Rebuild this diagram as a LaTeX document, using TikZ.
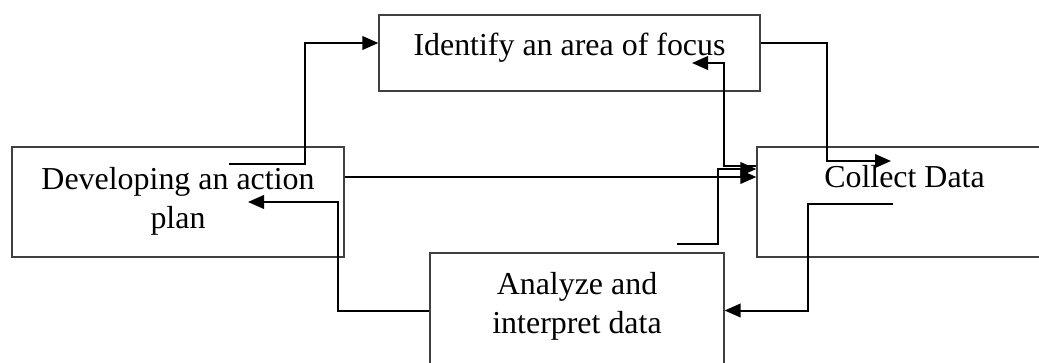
\documentclass[tikz,border=0pt]{standalone}
\usepackage{fontspec}
\setmainfont{Liberation Serif}
\usetikzlibrary{arrows.meta}

\begin{document}
\begin{tikzpicture}[x=0.025cm, y=-0.025cm,
    box/.style={draw=black!75, line width=0.03cm, inner sep=0pt, align=center,
      font=\fontsize{22.7}{27.7}\selectfont},
    link/.style={line width=0.05cm, -{Triangle[length=0.4cm, width=0.34cm]}}]
  \useasboundingbox (0,0) rectangle (1039,362);

  % Drawing box Identify
  \node[box, minimum width=9.525cm, text height=1.0cm, text depth=0.9cm] (focus) at (569.5,53) {Identify an area of focus};%
  % Drawing box Developing
  \node[box, minimum width=8.3cm, text height=2.025cm, text depth=0.725cm] (plan) at (178,202) {Developing an action\\plan};%
  % Drawing box Collect
  \node[box, minimum width=7.375cm, text height=1.0cm, text depth=1.75cm] (collect) at (904.5,202) {Collect Data};%
  % Drawing box Analyze
  \node[box, minimum width=7.35cm, text height=2.0cm, text depth=0.875cm] (analyze) at (577,310.5) {Analyze and\\interpret data};%

  % Free ends of the arrows
  \coordinate (s1) at (229,164);%
  \coordinate (e3) at (891,161);%
  \coordinate (s4) at (893,204);%
  \coordinate (e5) at (248,202);%
  \coordinate (s6) at (677,244);%
  \coordinate (e7) at (692,63);%

  % Drawing arrow plan -> focus
  \draw[link] (s1) -- ++(76,0) |- ([yshift=0.25cm]focus.west);%
  % Drawing arrow plan -> collect
  \draw[link] ([yshift=0.625cm]plan.east) -- ([yshift=0.625cm]collect.west);%
  % Drawing arrow focus -> collect
  \draw[link] ([yshift=0.25cm]focus.east) -- ++(66,0) |- (e3);%
  % Drawing arrow collect -> analyze
  \draw[link] (s4) -- ++(-85,0) |- (analyze.east);%
  % Drawing arrow analyze -> plan
  \draw[link] (analyze.west) -- ++(-91,0) |- (e5);%
  % Drawing arrow to collect
  \draw[link] (s6) -- ++(41,0) |- ([yshift=0.825cm]collect.west);%
  % Drawing arrow collect -> focus
  \draw[link] ([yshift=0.9cm]collect.west) -- ++(-32,0) |- (e7);%
\end{tikzpicture}
\end{document}
